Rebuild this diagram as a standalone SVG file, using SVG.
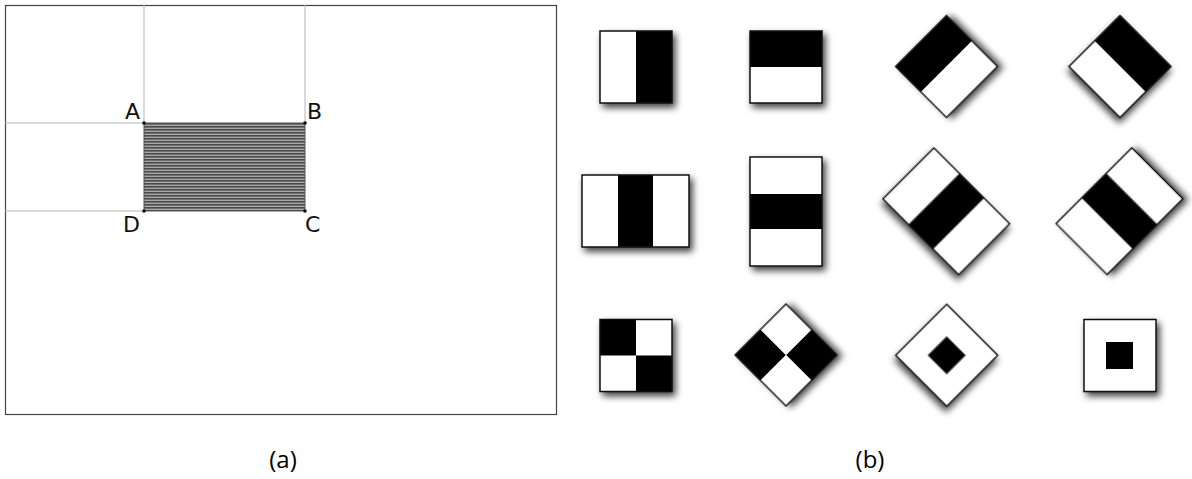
<svg xmlns="http://www.w3.org/2000/svg" width="1192" height="479" viewBox="0 0 1192 479">
<style>
.guide{stroke:#b4b4b4;stroke-width:1;fill:none}
.lbl{font-family:"DejaVu Sans",sans-serif;font-size:22px;fill:#111}
.cap{font-family:"Open Sans",sans-serif;font-size:24px;fill:#000}
.w{fill:#fff}
.k{fill:#000}
.edge{fill:none;stroke:#111;stroke-width:1.5}
</style>
<defs>
<pattern id="hatch" width="10" height="3" patternUnits="userSpaceOnUse" y="123">
<rect width="10" height="3" fill="#a8a8a8"/>
<rect width="10" height="1.6" fill="#4a4a4a"/>
</pattern>
<filter id="sh" x="-30%" y="-30%" width="160%" height="160%">
<feDropShadow dx="3" dy="4" stdDeviation="3.5" flood-color="#000" flood-opacity="0.75"/>
</filter>
</defs>
<rect width="1192" height="479" fill="#fff"/>

<g id="panel-a">
<rect x="5.5" y="5.5" width="551" height="409" fill="none" stroke="#444" stroke-width="1.2"/>
<line class="guide" x1="144" y1="5" x2="144" y2="123"/>
<line class="guide" x1="305" y1="5" x2="305" y2="123"/>
<line class="guide" x1="5" y1="123" x2="144" y2="123"/>
<line class="guide" x1="5" y1="211" x2="144" y2="211"/>
<rect x="144" y="123" width="161" height="88" fill="url(#hatch)" stroke="#555" stroke-width="1"/>
<g fill="#111">
<circle cx="144" cy="123" r="1.8"/><circle cx="305" cy="123" r="1.8"/>
<circle cx="305" cy="211" r="1.8"/><circle cx="144" cy="211" r="1.8"/>
</g>
<text class="lbl" x="140" y="119" text-anchor="end">A</text>
<text class="lbl" x="307" y="119">B</text>
<text class="lbl" x="140" y="232" text-anchor="end">D</text>
<text class="lbl" x="305" y="232">C</text>
</g>

<g id="f1" filter="url(#sh)">
<rect class="w" x="600" y="31" width="36" height="72"/><rect class="k" x="636" y="31" width="36" height="72"/>
<rect class="edge" x="600" y="31" width="72" height="72"/>
</g>
<g id="f2" filter="url(#sh)">
<rect class="k" x="750" y="31" width="72" height="36"/><rect class="w" x="750" y="67" width="72" height="36"/>
<rect class="edge" x="750" y="31" width="72" height="72"/>
</g>
<g id="f3" filter="url(#sh)" transform="translate(946.5,66.5) rotate(-45)">
<rect class="k" x="-36" y="-36" width="72" height="36"/><rect class="w" x="-36" y="0" width="72" height="36"/>
<rect class="edge" x="-36" y="-36" width="72" height="72"/>
</g>
<g id="f4" filter="url(#sh)" transform="translate(1120,66.5) rotate(45)">
<rect class="k" x="-36" y="-36" width="72" height="36"/><rect class="w" x="-36" y="0" width="72" height="36"/>
<rect class="edge" x="-36" y="-36" width="72" height="72"/>
</g>

<g id="f5" filter="url(#sh)">
<rect class="w" x="582" y="175" width="107" height="72"/><rect class="k" x="618" y="175" width="35" height="72"/>
<rect class="edge" x="582" y="175" width="107" height="72"/>
</g>
<g id="f6" filter="url(#sh)">
<rect class="w" x="750" y="157" width="72" height="109"/><rect class="k" x="750" y="194" width="72" height="35"/>
<rect class="edge" x="750" y="157" width="72" height="109"/>
</g>
<g id="f7" filter="url(#sh)" transform="translate(946.3,211.3) rotate(45)">
<rect class="w" x="-53.5" y="-36" width="107" height="72"/><rect class="k" x="-17.5" y="-36" width="35" height="72"/>
<rect class="edge" x="-53.5" y="-36" width="107" height="72"/>
</g>
<g id="f8" filter="url(#sh)" transform="translate(1119.5,211.2) rotate(-45)">
<rect class="w" x="-53.5" y="-36" width="107" height="72"/><rect class="k" x="-17.5" y="-36" width="35" height="72"/>
<rect class="edge" x="-53.5" y="-36" width="107" height="72"/>
</g>

<g id="f9" filter="url(#sh)">
<rect class="w" x="600" y="319.5" width="72" height="72"/>
<rect class="k" x="600" y="319.5" width="36" height="36"/><rect class="k" x="636" y="355.5" width="36" height="36"/>
<rect class="edge" x="600" y="319.5" width="72" height="72"/>
</g>
<g id="f10" filter="url(#sh)" transform="translate(786,355) rotate(-45)">
<rect class="w" x="-36" y="-36" width="72" height="72"/>
<rect class="k" x="-36" y="-36" width="36" height="36"/><rect class="k" x="0" y="0" width="36" height="36"/>
<rect class="edge" x="-36" y="-36" width="72" height="72"/>
</g>
<g id="f11" filter="url(#sh)" transform="translate(946.7,355.3) rotate(45)">
<rect class="w" x="-36" y="-36" width="72" height="72"/>
<rect class="k" x="-13.5" y="-13.5" width="27" height="27"/>
<rect class="edge" x="-36" y="-36" width="72" height="72"/>
</g>
<g id="f12" filter="url(#sh)">
<rect class="w" x="1084" y="319.5" width="72" height="72"/>
<rect class="k" x="1106" y="342" width="27" height="27"/>
<rect class="edge" x="1084" y="319.5" width="72" height="72"/>
</g>

<text class="cap" x="283" y="468" text-anchor="middle">(a)</text>
<text class="cap" x="870" y="468" text-anchor="middle">(b)</text>
</svg>
